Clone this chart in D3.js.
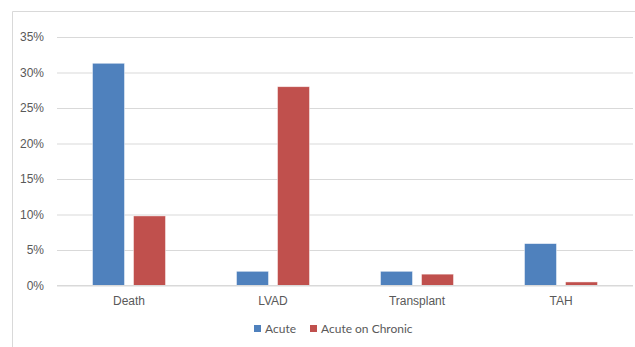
<!DOCTYPE html>
<html>
<head>
<meta charset="utf-8">
<script src="https://cdn.jsdelivr.net/npm/d3@7"></script>
<style>
  html, body { margin: 0; padding: 0; background: #fff; }
  svg { display: block; font-family: Lato, "Open Sans", sans-serif; }
</style>
</head>
<body>
<svg id="chart" width="635" height="347"></svg>
<script>
// Outcome categories and the share of patients per group
const categories = ["Death", "LVAD", "Transplant", "TAH"];
const seriesNames = ["Acute", "Acute on Chronic"];
const acute = [0.313, 0.020, 0.020, 0.059];
const acuteOnChronic = [0.098, 0.280, 0.016, 0.005];
const yTicks = [0, 0.05, 0.10, 0.15, 0.20, 0.25, 0.30, 0.35];
const colors = ["#4F81BD", "#C0504D"];

const svg = d3.select("#chart");
const W = 635, H = 347;
const margin = { left: 57, right: 2, top: 37, bottom: 61.5 };

// chart area frame
svg.append("path")
  .attr("d", `M12.5,${H} V11.5 H${W}`)
  .attr("fill", "none")
  .attr("stroke", "#d9d9d9")
  .attr("stroke-width", 1);

const x = d3.scaleBand()
  .domain(categories)
  .range([margin.left, W - margin.right])
  .paddingInner(0)
  .paddingOuter(0);

const y = d3.scaleLinear()
  .domain([0, 0.35])
  .range([H - margin.bottom, margin.top]);

const inner = d3.scaleBand()
  .domain(seriesNames)
  .range([0, x.bandwidth()])
  .paddingInner(0.22)
  .paddingOuter(0.866);

// gridlines
const yAxis = d3.axisLeft(y)
  .tickValues(yTicks)
  .tickSize(-(W - margin.left - margin.right))
  .tickPadding(13)
  .tickFormat(d3.format(".0%"));

const gy = svg.append("g")
  .attr("transform", `translate(${margin.left},0)`)
  .call(yAxis);
gy.select(".domain").remove();
gy.selectAll(".tick line").attr("stroke", "#d9d9d9").attr("stroke-width", 1);
gy.selectAll(".tick text")
  .attr("fill", "#595959")
  .attr("font-size", "12px");

// bars
const rows = categories.map((c, i) => ({ cat: c, vals: [acute[i], acuteOnChronic[i]] }));
const groups = svg.append("g").selectAll("g")
  .data(rows)
  .join("g")
  .attr("transform", d => `translate(${x(d.cat)},0)`);

groups.selectAll("rect")
  .data(d => d.vals.map((v, j) => ({ v, s: seriesNames[j], j })))
  .join("rect")
  .attr("x", d => inner(d.s))
  .attr("width", inner.bandwidth())
  .attr("y", d => y(d.v))
  .attr("height", d => y(0) - y(d.v))
  .attr("fill", d => colors[d.j])
  .attr("stroke", "#ffffff")
  .attr("stroke-opacity", 0.6)
  .attr("stroke-width", 0.75);

// baseline
svg.append("line")
  .attr("x1", margin.left).attr("x2", W - margin.right)
  .attr("y1", y(0)).attr("y2", y(0))
  .attr("stroke", "#d9d9d9");

// category axis
const xAxis = d3.axisBottom(x).tickSize(0).tickPadding(11);
const gx = svg.append("g")
  .attr("transform", `translate(0,${y(0)})`)
  .call(xAxis);
gx.select(".domain").remove();
gx.selectAll(".tick text")
  .attr("fill", "#595959")
  .attr("font-size", "12px");

// legend
const legendItems = [
  { name: seriesNames[0], color: colors[0], x: 254 },
  { name: seriesNames[1], color: colors[1], x: 310 }
];
const lg = svg.append("g");
legendItems.forEach(it => {
  lg.append("rect")
    .attr("x", it.x).attr("y", 325)
    .attr("width", 7).attr("height", 7)
    .attr("fill", it.color);
  lg.append("text")
    .attr("x", it.x + 11).attr("y", 333)
    .attr("fill", "#595959")
    .attr("font-size", "12px")
    .text(it.name);
});
</script>
</body>
</html>
